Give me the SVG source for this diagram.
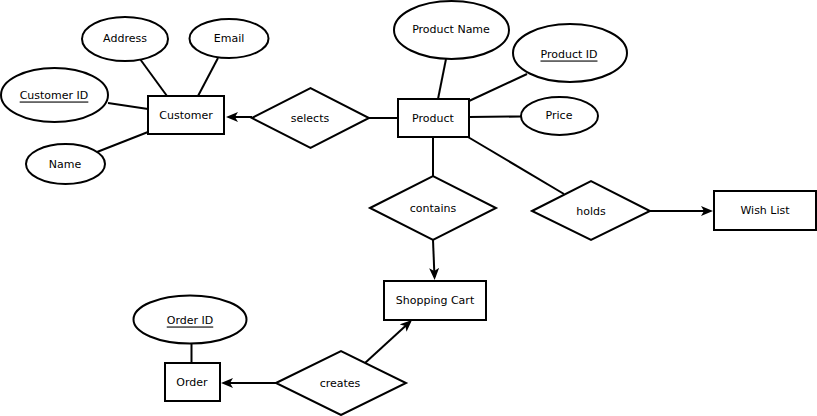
<svg xmlns="http://www.w3.org/2000/svg" width="817" height="416" viewBox="0 0 817 416">
<defs>
<style>
.s{fill:#fff;stroke:#000;stroke-width:2}
.t{font-family:"DejaVu Sans",Verdana,sans-serif;font-size:11px;fill:#000;text-anchor:middle;dominant-baseline:central}
.u{text-decoration:underline}
.c{stroke:#000;stroke-width:2;fill:none}
.a{marker-end:url(#arr)}
</style>
<marker id="arr" viewBox="0 0 12 10" refX="9" refY="5" markerWidth="12" markerHeight="10" orient="auto" markerUnits="userSpaceOnUse">
<path d="M0,0 L12,5 L0,10 L3,5 z" fill="#000"/>
</marker>
</defs>
<rect width="817" height="416" fill="#fff"/>
<g id="connectors">
<line class="c" x1="140" y1="59" x2="167" y2="96"/>
<line class="c" x1="218" y1="58" x2="198" y2="96"/>
<line class="c" x1="108" y1="103" x2="148" y2="109"/>
<line class="c" x1="97" y1="152" x2="148" y2="132"/>
<line class="c a" x1="252" y1="117" x2="229" y2="117"/>
<line class="c" x1="369" y1="118" x2="398" y2="118"/>
<line class="c" x1="446" y1="59" x2="438" y2="99"/>
<line class="c" x1="527" y1="74" x2="469" y2="101"/>
<line class="c" x1="469" y1="117" x2="521" y2="116.5"/>
<line class="c" x1="433" y1="137" x2="433" y2="176"/>
<line class="c" x1="468" y1="137" x2="564" y2="194"/>
<line class="c a" x1="650" y1="211" x2="710" y2="211"/>
<line class="c a" x1="433" y1="240" x2="434.5" y2="277"/>
<line class="c" x1="191.5" y1="343" x2="191.5" y2="363"/>
<line class="c a" x1="276" y1="383" x2="224" y2="383"/>
<line class="c a" x1="365" y1="363" x2="409.8" y2="322"/>
</g>
<g id="customer"><rect class="s" x="148" y="96" width="76" height="38"/><text class="t" x="186" y="115">Customer</text></g>
<g id="address"><ellipse class="s" cx="125" cy="39" rx="43" ry="22"/><text class="t" x="125" y="38">Address</text></g>
<g id="email"><ellipse class="s" cx="229" cy="38.5" rx="39.5" ry="19.5"/><text class="t" x="229" y="38">Email</text></g>
<g id="customer-id"><ellipse class="s" cx="54.5" cy="95" rx="53.5" ry="27"/><text class="t u" x="54" y="95">Customer ID</text></g>
<g id="name"><ellipse class="s" cx="65.5" cy="164" rx="39.5" ry="20"/><text class="t" x="65" y="164">Name</text></g>
<g id="selects"><polygon class="s" points="252,118 310.5,88 369,118 310.5,148"/><text class="t" x="310" y="118">selects</text></g>
<g id="product"><rect class="s" x="398" y="99" width="71" height="38"/><text class="t" x="433" y="118">Product</text></g>
<g id="product-name"><ellipse class="s" cx="451.5" cy="30" rx="57.5" ry="29"/><text class="t" x="451" y="29">Product Name</text></g>
<g id="product-id"><ellipse class="s" cx="570" cy="53" rx="57" ry="29"/><text class="t u" x="569" y="54">Product ID</text></g>
<g id="price"><ellipse class="s" cx="559.5" cy="116" rx="38.5" ry="19"/><text class="t" x="559" y="115">Price</text></g>
<g id="contains"><polygon class="s" points="370,208 433,176 496,208 433,240"/><text class="t" x="433" y="208">contains</text></g>
<g id="holds"><polygon class="s" points="532,211 591,181 650,211 591,240"/><text class="t" x="591" y="211">holds</text></g>
<g id="wish-list"><rect class="s" x="714" y="191" width="102" height="39"/><text class="t" x="765" y="210">Wish List</text></g>
<g id="shopping-cart"><rect class="s" x="384" y="281" width="102" height="39"/><text class="t" x="435" y="300">Shopping Cart</text></g>
<g id="order-id"><ellipse class="s" cx="190" cy="319.5" rx="56.5" ry="24"/><text class="t u" x="190" y="320">Order ID</text></g>
<g id="order"><rect class="s" x="165" y="363" width="55" height="38"/><text class="t" x="192" y="382">Order</text></g>
<g id="creates"><polygon class="s" points="276,383 341,351 406,383 341,415"/><text class="t" x="340" y="383">creates</text></g>
</svg>
